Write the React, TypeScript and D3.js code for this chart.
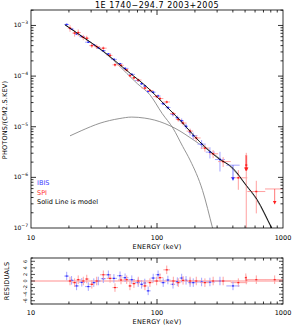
import React from "react";
import * as d3 from "d3";

const title = "1E 1740\u2212294.7 2003+2005";

// model: total (black), comptonization (gray, steep), second component (gray hump)
const totalE = [18.6, 25, 37.5, 55, 87.9, 120, 152, 219, 305, 401, 512, 620, 815, 900];
const totalF = [1.035e-3, 6.22e-4, 3.09e-4, 1.41e-4, 5.37e-5, 2.45e-5, 1.35e-5, 5.01e-6, 2.4e-6, 1.51e-6, 6.92e-7, 3.72e-7, 1.0e-7, 6.2e-8];
const compE = [18.6, 37.5, 44.8, 57.8, 70, 87.9, 110, 134, 160, 183, 230, 276, 300];
const compF = [1.02e-3, 3.02e-4, 2.09e-4, 1.12e-4, 7.06e-5, 4.27e-5, 1.82e-5, 9.33e-6, 4.07e-6, 2.19e-6, 5.5e-7, 1.0e-7, 4.5e-8];
const humpE = [20.4, 25, 35.3, 50, 63, 80, 96, 139, 200, 278, 401, 512, 620, 815, 900];
const humpF = [6.61e-6, 8.32e-6, 1.175e-5, 1.445e-5, 1.55e-5, 1.48e-5, 1.35e-5, 9.33e-6, 5.25e-6, 2.95e-6, 1.445e-6, 6.76e-7, 3.55e-7, 9.55e-8, 5.9e-8];

// IBIS spectrum
const ibisE = [19.2, 21, 23, 25.3, 28.5, 31.5, 34.2, 37.5, 41.1, 45.5, 50.9, 55.8, 63.1, 70.9, 75.5, 80, 85.1, 93.3, 102, 112, 122, 134, 145, 157, 170, 183, 194, 226, 263, 316];
const ibisF = [1.045e-3, 8.47e-4, 6.81e-4, 6.01e-4, 4.67e-4, 4.1e-4, 3.62e-4, 3.17e-4, 2.74e-4, 2.14e-4, 1.75e-4, 1.42e-4, 1.08e-4, 8.18e-5, 7.05e-5, 6.37e-5, 5.0e-5, 4.81e-5, 4.04e-5, 2.85e-5, 2.39e-5, 1.75e-5, 1.51e-5, 1.31e-5, 1.02e-5, 7.83e-6, 6.65e-6, 4.53e-6, 3.15e-6, 2.25e-6];
const ibisErr = [0.04, 0.035, 0.035, 0.035, 0.035, 0.035, 0.035, 0.035, 0.035, 0.04, 0.04, 0.04, 0.045, 0.05, 0.05, 0.055, 0.06, 0.06, 0.07, 0.07, 0.08, 0.09, 0.1, 0.11, 0.12, 0.14, 0.15, 0.2, 0.25, 0.42];
const ibisRes = [1.5, 0.2, -1.5, -0.4, -1.7, -0.5, 0, 0.7, 1.9, 0.8, 1.6, 1.0, 0.4, -0.5, -1.0, -0.6, -3.0, 0.9, 1.9, -0.5, 0.3, -1.0, -0.2, 0.9, 0.2, -0.5, -0.5, -0.3, -0.3, 0];

// SPI spectrum
const spiE = [20.4, 22.2, 23.7, 26.0, 27.7, 30.4, 33.2, 37.5, 42.4, 46.4, 51.8, 57.5, 61.0, 65.6, 71.0, 80.2, 87.9, 99.4, 105.6, 119.5, 134.8, 147.5, 161, 183, 205, 240, 279, 335, 442, 614];
const spiF = [8.83e-4, 7.08e-4, 7.23e-4, 5.82e-4, 5.6e-4, 3.99e-4, 3.82e-4, 3.56e-4, 2.56e-4, 1.67e-4, 1.63e-4, 1.32e-4, 1.02e-4, 9.25e-5, 8.36e-5, 5.81e-5, 5.19e-5, 3.94e-5, 3.6e-5, 3.08e-5, 1.82e-5, 1.39e-5, 1.18e-5, 8.2e-6, 6.0e-6, 3.79e-6, 2.92e-6, 2.05e-6, 9.8e-7, 5.25e-7];
const spiErr = [0.15, 0.15, 0.15, 0.12, 0.12, 0.1, 0.1, 0.08, 0.08, 0.08, 0.07, 0.07, 0.07, 0.07, 0.07, 0.07, 0.07, 0.07, 0.07, 0.07, 0.08, 0.09, 0.1, 0.12, 0.13, 0.15, 0.18, 0.22, 0.42, 0.63];
const spiRes = [0, -0.5, 0.4, 0, 0.6, -1.0, 0, 1.9, 0.8, -2.0, 0.3, 0.4, -1.5, -0.8, 0, -1.5, -0.5, 0, 1.0, 3.4, 0, -0.5, 0.2, 0, 0, -0.5, 0, 0, -0.5, 0.4];

// SPI 511 keV line bin
const lineE = [511];
const lineF = [1.75e-6];
const lineErrLo = [1.75e-6];
const lineErrHi = [1.3e-6];
const lineRes = [0.3];

// upper limits
const ulInst = ["IBIS", "SPI", "SPI", "SPI"];
const ulE = [401, 507, 515, 859];
const ulLo = [355, 503, 511, 720];
const ulHi = [453, 511, 519, 1000];
const ulF = [1.74e-6, 2.7e-6, 2.7e-6, 5.9e-7];
const ulRes = [-1.5, 1.0, 0, 0.4];

const resTicks = [-6, -4, -2, 0, 2, 4, 6];
const resErr = 1.3;

const X0 = 31, X1 = 283;
const T0 = 10, T1 = 228;
const R0 = 258, R1 = 304;
const FONT = "DejaVu Sans, sans-serif";
const BLUE_L = "#a4a4ff", BLUE_D = "#2828ff";
const RED_L = "#ffa0a0", RED_D = "#ff1e1e";

function edges(E: number[]) {
  return E.map((e, i) => {
    const prev = i > 0 ? E[i - 1] : (e * e) / E[i + 1];
    const next = i < E.length - 1 ? E[i + 1] : (e * e) / E[i - 1];
    return [Math.sqrt(prev * e), Math.sqrt(e * next)];
  });
}

export default function App() {
  const x = d3.scaleLog().domain([10, 1000]).range([X0, X1]);
  const y = d3.scaleLog().domain([1e-7, 2.02e-3]).range([T1, T0]);
  const yr = d3.scaleLinear().domain([-7, 7]).range([R1, R0]);

  const line = d3
    .line<[number, number]>()
    .x((d) => x(d[0]))
    .y((d) => y(d[1]))
    .curve(d3.curveMonotoneX);
  const zip = (a: number[], b: number[]) => a.map((v, i) => [v, b[i]] as [number, number]);

  const ibisBins = edges(ibisE);
  const spiBins = edges(spiE);

  const xMajor = [10, 100, 1000];
  const xMinor: number[] = [];
  [10, 100].forEach((d) => d3.range(2, 10).forEach((k) => xMinor.push(d * k)));
  const yMajor = [1e-7, 1e-6, 1e-5, 1e-4, 1e-3];
  const yMinor: number[] = [];
  yMajor.forEach((d) => d3.range(2, 10).forEach((k) => { if (d * k < 2.02e-3) yMinor.push(d * k); }));

  const yLow = (v: number) => (v > 0 ? y(v) : T1 + 20);

  const point = (key: string, e: number, lo: number, hi: number, f: number, eLo: number, eHi: number, light: string, dark: string) => (
    <g key={key}>
      <line x1={x(lo)} x2={x(hi)} y1={y(f)} y2={y(f)} stroke={light} strokeWidth={1} />
      <line x1={x(e)} x2={x(e)} y1={yLow(f - eLo)} y2={y(f + eHi)} stroke={light} strokeWidth={1} />
      <rect x={x(e) - 1} y={y(f) - 0.75} width={2} height={1.5} fill={dark} />
    </g>
  );

  const resPoint = (key: string, e: number, lo: number, hi: number, r: number, light: string, dark: string) => (
    <g key={key}>
      <line x1={x(lo)} x2={x(hi)} y1={yr(r)} y2={yr(r)} stroke={light} strokeWidth={1} />
      <line x1={x(e)} x2={x(e)} y1={yr(r - resErr)} y2={yr(r + resErr)} stroke={light} strokeWidth={1} />
      <rect x={x(e) - 1} y={yr(r) - 0.6} width={2} height={1.2} fill={dark} />
    </g>
  );

  const frameTicks = (ya: number, yb: number) => (
    <g stroke="#000" strokeWidth={0.8}>
      {xMajor.slice(1, 2).map((d) => (
        <g key={"M" + d}>
          <line x1={x(d)} x2={x(d)} y1={yb} y2={yb - 5} />
          <line x1={x(d)} x2={x(d)} y1={ya} y2={ya + 5} />
        </g>
      ))}
      {xMinor.map((d) => (
        <g key={"m" + d}>
          <line x1={x(d)} x2={x(d)} y1={yb} y2={yb - 2.5} />
          <line x1={x(d)} x2={x(d)} y1={ya} y2={ya + 2.5} />
        </g>
      ))}
    </g>
  );

  const xLabels = (yy: number) => (
    <g fontFamily={FONT} fontSize={6.5} textAnchor="middle" fill="#000">
      {xMajor.map((d) => (
        <text key={d} x={x(d)} y={yy}>{d}</text>
      ))}
    </g>
  );

  return (
    <svg width={292} height={327} style={{ position: "fixed", left: 0, top: 0, background: "#fff" }}>
      <defs>
        <clipPath id="topClip"><rect x={X0} y={T0} width={X1 - X0} height={T1 - T0} /></clipPath>
        <clipPath id="resClip"><rect x={X0} y={R0} width={X1 - X0} height={R1 - R0} /></clipPath>
      </defs>
      <rect width={292} height={327} fill="#fff" />

      <text x={157} y={7.5} textAnchor="middle" fontFamily={FONT} fontSize={8} letterSpacing={0.5} fill="#000">{title}</text>

      {/* top panel */}
      <g clipPath="url(#topClip)">
        <path d={line(zip(compE, compF)) || ""} fill="none" stroke="#888" strokeWidth={0.9} />
        <path d={line(zip(humpE, humpF)) || ""} fill="none" stroke="#888" strokeWidth={0.9} />
        {ibisE.map((e, i) => point("ib" + i, e, ibisBins[i][0], ibisBins[i][1], ibisF[i], ibisF[i] * ibisErr[i], ibisF[i] * ibisErr[i], BLUE_L, BLUE_D))}
        {spiE.map((e, i) => point("sp" + i, e, spiBins[i][0], spiBins[i][1], spiF[i], spiF[i] * spiErr[i], spiF[i] * spiErr[i], RED_L, RED_D))}
        {lineE.map((e, i) => point("ln" + i, e, e * 0.994, e * 1.006, lineF[i], lineErrLo[i], lineErrHi[i], RED_L, RED_D))}
        {ulE.map((e, i) => {
          const dark = ulInst[i] === "IBIS" ? BLUE_D : RED_D;
          const light = ulInst[i] === "IBIS" ? BLUE_L : RED_L;
          const yt = y(ulF[i] * 0.5);
          const xc = x(e);
          return (
            <g key={"ul" + i}>
              <line x1={x(ulLo[i])} x2={x(ulHi[i])} y1={y(ulF[i])} y2={y(ulF[i])} stroke={light} strokeWidth={1} />
              <line x1={xc} x2={xc} y1={y(ulF[i])} y2={yt} stroke={dark} strokeWidth={0.6} />
              <path d={`M${xc - 1.8},${yt - 3.2}L${xc + 1.8},${yt - 3.2}L${xc},${yt}Z`} fill={dark} />
            </g>
          );
        })}
        <path d={line(zip(totalE, totalF)) || ""} fill="none" stroke="#000" strokeWidth={0.9} />
      </g>

      <rect x={X0} y={T0} width={X1 - X0} height={T1 - T0} fill="none" stroke="#000" strokeWidth={0.8} />
      {frameTicks(T0, T1)}
      <g stroke="#000" strokeWidth={0.8}>
        {yMajor.slice(1).map((d) => (
          <g key={"yM" + d}>
            <line x1={X0} x2={X0 + 5} y1={y(d)} y2={y(d)} />
            <line x1={X1} x2={X1 - 5} y1={y(d)} y2={y(d)} />
          </g>
        ))}
        {yMinor.map((d) => (
          <g key={"ym" + d}>
            <line x1={X0} x2={X0 + 2.5} y1={y(d)} y2={y(d)} />
            <line x1={X1} x2={X1 - 2.5} y1={y(d)} y2={y(d)} />
          </g>
        ))}
      </g>
      <g fontFamily={FONT} fill="#000" textAnchor="end">
        {yMajor.map((d) => (
          <text key={"yl" + d} x={28} y={y(d) + 2}>
            <tspan fontSize={6}>10</tspan>
            <tspan fontSize={4.5} dy={-3}>{"\u2212" + Math.round(-Math.log10(d))}</tspan>
          </text>
        ))}
      </g>
      {xLabels(240)}
      <text x={157} y={249} textAnchor="middle" fontFamily={FONT} fontSize={6.5} letterSpacing={0.3}>ENERGY (keV)</text>
      <text transform="translate(7,120) rotate(-90)" textAnchor="middle" fontFamily={FONT} fontSize={6.5} letterSpacing={0.2}>PHOTONS/(CM2.S.KEV)</text>

      <g fontFamily={FONT} fontSize={6.5}>
        <text x={37} y={185} fill="#3c3cff">IBIS</text>
        <text x={37} y={194.5} fill="#ff3030">SPI</text>
        <text x={37} y={204} fill="#000">Solid Line is model</text>
      </g>

      {/* residuals */}
      <g clipPath="url(#resClip)">
        <line x1={X0} x2={X1} y1={yr(0)} y2={yr(0)} stroke="#ffb4b4" strokeWidth={1.6} />
        {ibisE.map((e, i) => resPoint("rib" + i, e, ibisBins[i][0], ibisBins[i][1], ibisRes[i], BLUE_L, BLUE_D))}
        {spiE.map((e, i) => resPoint("rsp" + i, e, spiBins[i][0], spiBins[i][1], spiRes[i], RED_L, RED_D))}
        {lineE.map((e, i) => resPoint("rln" + i, e, e * 0.994, e * 1.006, lineRes[i], RED_L, RED_D))}
        {ulE.map((e, i) =>
          i === 2
            ? null
            : resPoint("rul" + i, e, ulLo[i], ulHi[i], ulRes[i], ulInst[i] === "IBIS" ? BLUE_L : RED_L, ulInst[i] === "IBIS" ? BLUE_D : RED_D)
        )}
      </g>
      <rect x={X0} y={R0} width={X1 - X0} height={R1 - R0} fill="none" stroke="#000" strokeWidth={0.8} />
      {frameTicks(R0, R1)}
      <g stroke="#000" strokeWidth={0.7}>
        {d3.range(-7, 8).map((d) => {
          const len = d % 2 === 0 ? 4 : 2;
          return (
            <g key={"rt" + d}>
              <line x1={X0} x2={X0 + len} y1={yr(d)} y2={yr(d)} />
              <line x1={X1} x2={X1 - len} y1={yr(d)} y2={yr(d)} />
            </g>
          );
        })}
      </g>
      <g fontFamily={FONT} fontSize={5} textAnchor="middle" fill="#000">
        {resTicks.map((d) => (
          <text key={"rl" + d} transform={`translate(${27},${yr(d)}) rotate(-90)`}>{d}</text>
        ))}
      </g>
      {xLabels(315)}
      <text x={157} y={324} textAnchor="middle" fontFamily={FONT} fontSize={6.5} letterSpacing={0.3}>ENERGY (keV)</text>
      <text transform="translate(9,281) rotate(-90)" textAnchor="middle" fontFamily={FONT} fontSize={6.5} letterSpacing={0.2}>RESIDUALS</text>
    </svg>
  );
}
